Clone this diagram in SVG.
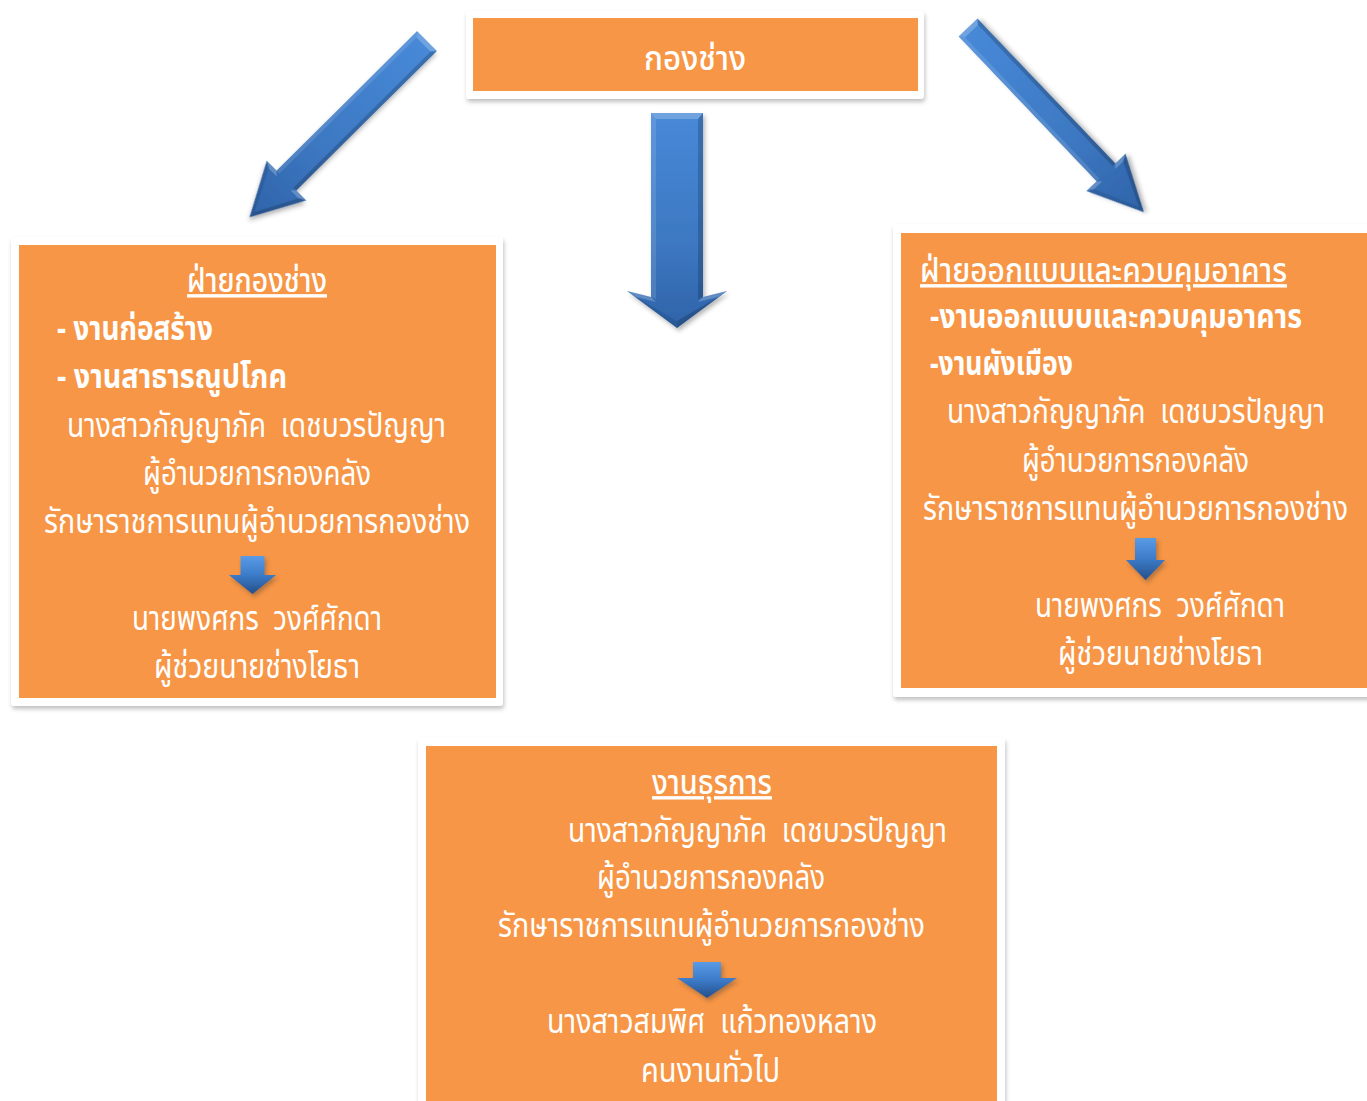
<svg xmlns="http://www.w3.org/2000/svg" width="1367" height="1101" viewBox="0 0 1367 1101">
<style>
.frame{fill:#ffffff;filter:url(#boxShadow)}
.panel{fill:#F79646}
text{font-family:'Noto Sans Thai','Noto Sans Thai UI','Noto Sans','DejaVu Sans',sans-serif;fill:#ffffff;font-size:29px;white-space:pre}
.title{font-weight:500;text-decoration:underline}
.bold{font-weight:700}
.body{font-weight:400}
.arrow{filter:url(#arrowShadow)}
.lt{fill:#ffffff;fill-opacity:0.22}
.lt2{fill:#ffffff;fill-opacity:0.12}
.dk{fill:#000000;fill-opacity:0.18}
.dk2{fill:#000000;fill-opacity:0.1}
</style>
<defs>
<filter id="boxShadow" x="-5%" y="-5%" width="110%" height="115%">
<feDropShadow dx="1" dy="3" stdDeviation="2" flood-color="#777777" flood-opacity="0.45"/>
</filter>
<filter id="arrowShadow" x="-30%" y="-30%" width="160%" height="160%">
<feDropShadow dx="2" dy="3" stdDeviation="2" flood-color="#333333" flood-opacity="0.35"/>
</filter>
<linearGradient id="gArrow" x1="0" y1="0" x2="0" y2="1">
<stop offset="0" stop-color="#4789D8"/>
<stop offset="0.6" stop-color="#3D78C2"/>
<stop offset="1" stop-color="#2F63A8"/>
</linearGradient>
<linearGradient id="gSmall" x1="0" y1="0" x2="0" y2="1">
<stop offset="0" stop-color="#5A9BE6"/>
<stop offset="0.5" stop-color="#3C7BC8"/>
<stop offset="1" stop-color="#244F8A"/>
</linearGradient>
</defs>

<g id="connectors">
<g class="arrow" transform="translate(427,41) rotate(45.2)">
<polygon points="-14,0 14,0 14,198 28,198 0,250 -28,198 -14,198" fill="url(#gArrow)"/>
<polygon class="lt" points="-14,0 14,0 10,5 -10,5"/>
<polygon class="lt2" points="-14,0 -10,5 -10,198 -14,198"/>
<polygon class="dk" points="14,0 10,5 10,198 14,198"/>
<polygon class="lt" points="-28,198 -14,198 -10,202 -21,202"/>
<polygon class="lt" points="28,198 14,198 10,202 21,202"/>
<polygon class="dk2" points="-28,198 0,250 0,243 -21,202"/>
<polygon class="dk" points="28,198 0,250 0,243 21,202"/>
</g>
<g class="arrow" transform="translate(677,113)">
<polygon points="-26,0 26,0 26,184 50,178 0,215 -50,178 -26,184" fill="url(#gArrow)"/>
<polygon class="lt" points="-26,0 26,0 21,6 -21,6"/>
<polygon class="lt2" points="-26,0 -21,6 -21,186 -26,184"/>
<polygon class="dk" points="26,0 21,6 21,186 26,184"/>
<polygon class="lt" points="-50,178 -26,184 -21,189 -41,184"/>
<polygon class="lt" points="50,178 26,184 21,189 41,184"/>
<polygon class="dk2" points="-50,178 0,215 0,208 -41,184"/>
<polygon class="dk" points="50,178 0,215 0,208 41,184"/>
</g>
<g class="arrow" transform="translate(968,27.5) rotate(-43.6)">
<polygon points="-13,0 13,0 13,200 27,200 0,255 -27,200 -13,200" fill="url(#gArrow)"/>
<polygon class="lt" points="-13,0 13,0 9,5 -9,5"/>
<polygon class="lt2" points="-13,0 -9,5 -9,200 -13,200"/>
<polygon class="dk" points="13,0 9,5 9,200 13,200"/>
<polygon class="lt" points="-27,200 -13,200 -9,204 -20,204"/>
<polygon class="lt" points="27,200 13,200 9,204 20,204"/>
<polygon class="dk2" points="-27,200 0,255 0,248 -20,204"/>
<polygon class="dk" points="27,200 0,255 0,248 20,204"/>
</g>
</g>

<g id="node-top">
<rect class="frame" x="466" y="11" width="458" height="88" rx="3"/>
<rect class="panel" x="473" y="18" width="445" height="73"/>
<text transform="translate(644,70) scale(1,1.17)" textLength="102" lengthAdjust="spacingAndGlyphs" style="font-weight:500">กองช่าง</text>
</g>

<g id="node-left">
<rect class="frame" x="11" y="237" width="492" height="469" rx="3"/>
<rect class="panel" x="19" y="245" width="477" height="453"/>
<text class="title" transform="translate(187,292) scale(1,1.17)" textLength="140" lengthAdjust="spacingAndGlyphs">ฝ่ายกองช่าง</text>
<text class="bold" transform="translate(57,340) scale(1,1.17)" textLength="156" lengthAdjust="spacingAndGlyphs">- งานก่อสร้าง</text>
<text class="bold" transform="translate(57,388) scale(1,1.17)" textLength="230" lengthAdjust="spacingAndGlyphs">- งานสาธารณูปโภค</text>
<text class="body" transform="translate(67,437) scale(1,1.17)" textLength="379" lengthAdjust="spacingAndGlyphs">นางสาวกัญญาภัค  เดชบวรปัญญา</text>
<text class="body" transform="translate(143,485) scale(1,1.17)" textLength="228" lengthAdjust="spacingAndGlyphs">ผู้อำนวยการกองคลัง</text>
<text class="body" transform="translate(44,533) scale(1,1.17)" textLength="426" lengthAdjust="spacingAndGlyphs">รักษาราชการแทนผู้อำนวยการกองช่าง</text>
<g class="arrow" transform="translate(252.5,556)">
<polygon points="-12,0 12,0 12,19 23.5,19 0,38 -23.5,19 -12,19" fill="url(#gSmall)"/>
</g>
<text class="body" transform="translate(132,630) scale(1,1.17)" textLength="250" lengthAdjust="spacingAndGlyphs">นายพงศกร  วงศ์ศักดา</text>
<text class="body" transform="translate(154,678) scale(1,1.17)" textLength="206" lengthAdjust="spacingAndGlyphs">ผู้ช่วยนายช่างโยธา</text>
</g>

<g id="node-right">
<rect class="frame" x="893" y="224" width="480" height="473" rx="3"/>
<rect class="panel" x="901" y="233" width="472" height="455"/>
<text class="title" transform="translate(920,282) scale(1,1.17)" textLength="367" lengthAdjust="spacingAndGlyphs">ฝ่ายออกแบบและควบคุมอาคาร</text>
<text class="bold" transform="translate(930,328) scale(1,1.17)" textLength="372" lengthAdjust="spacingAndGlyphs">-งานออกแบบและควบคุมอาคาร</text>
<text class="bold" transform="translate(930,375) scale(1,1.17)" textLength="143" lengthAdjust="spacingAndGlyphs">-งานผังเมือง</text>
<text class="body" transform="translate(947,423) scale(1,1.17)" textLength="378" lengthAdjust="spacingAndGlyphs">นางสาวกัญญาภัค  เดชบวรปัญญา</text>
<text class="body" transform="translate(1022,472) scale(1,1.17)" textLength="227" lengthAdjust="spacingAndGlyphs">ผู้อำนวยการกองคลัง</text>
<text class="body" transform="translate(923,520) scale(1,1.17)" textLength="425" lengthAdjust="spacingAndGlyphs">รักษาราชการแทนผู้อำนวยการกองช่าง</text>
<g class="arrow" transform="translate(1145.5,538)">
<polygon points="-10.5,0 10.5,0 10.5,22 19.5,22 0,42 -19.5,22 -10.5,22" fill="url(#gSmall)"/>
</g>
<text class="body" transform="translate(1035,617) scale(1,1.17)" textLength="250" lengthAdjust="spacingAndGlyphs">นายพงศกร  วงศ์ศักดา</text>
<text class="body" transform="translate(1058,665) scale(1,1.17)" textLength="205" lengthAdjust="spacingAndGlyphs">ผู้ช่วยนายช่างโยธา</text>
</g>

<g id="node-bottom">
<rect class="frame" x="418" y="738" width="587" height="380" rx="3"/>
<rect class="panel" x="426" y="746" width="571" height="370"/>
<text class="title" transform="translate(652,794) scale(1,1.17)" textLength="120" lengthAdjust="spacingAndGlyphs">งานธุรการ</text>
<text class="body" transform="translate(568,842) scale(1,1.17)" textLength="379" lengthAdjust="spacingAndGlyphs">นางสาวกัญญาภัค  เดชบวรปัญญา</text>
<text class="body" transform="translate(597,889) scale(1,1.17)" textLength="228" lengthAdjust="spacingAndGlyphs">ผู้อำนวยการกองคลัง</text>
<text class="body" transform="translate(498,937) scale(1,1.17)" textLength="427" lengthAdjust="spacingAndGlyphs">รักษาราชการแทนผู้อำนวยการกองช่าง</text>
<g class="arrow" transform="translate(707,962)">
<polygon points="-14,0 14,0 14,16 30,16 0,36 -30,16 -14,16" fill="url(#gSmall)"/>
</g>
<text class="body" transform="translate(547,1033) scale(1,1.17)" textLength="330" lengthAdjust="spacingAndGlyphs">นางสาวสมพิศ  แก้วทองหลาง</text>
<text class="body" transform="translate(641,1082) scale(1,1.17)" textLength="139" lengthAdjust="spacingAndGlyphs">คนงานทั่วไป</text>
</g>
</svg>
